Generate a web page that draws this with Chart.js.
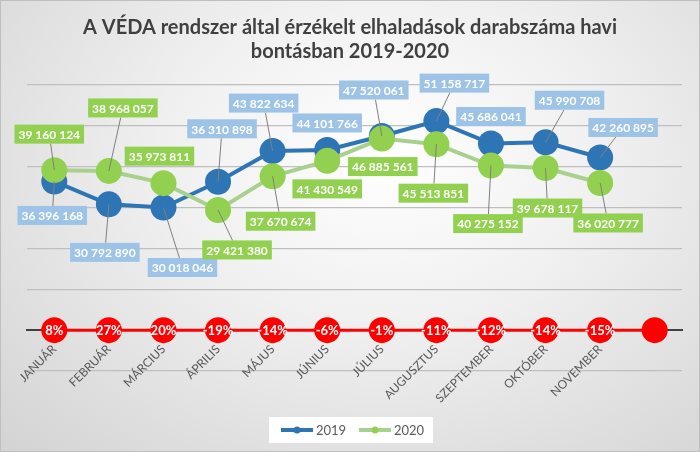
<!DOCTYPE html>
<html><head><meta charset="utf-8">
<script src="https://cdn.jsdelivr.net/npm/chart.js@4/dist/chart.umd.min.js"></script>
<style>
html,body{margin:0;padding:0;}
#wrap{width:698px;height:450px;border:1px solid #bfbfbf;background:radial-gradient(ellipse at 55% 35%,#ffffff 0%,#f0f0f0 40%,#d3d3d3 100%);}
</style></head><body>
<div id="wrap"><canvas id="c" width="698" height="450"></canvas></div>
<script>
const months = ['JANUÁR','FEBRUÁR','MÁRCIUS','ÁPRILIS','MÁJUS','JÚNIUS','JÚLIUS','AUGUSZTUS','SZEPTEMBER','OKTÓBER','NOVEMBER',''];
const values2019 = [36396168,30792890,30018046,36310898,43822634,44101766,47520061,51158717,45686041,45990708,42260895,null];
const values2020 = [39160124,38968057,35973811,29421380,37670674,41430549,46885561,45513851,40275152,39678117,36020777,null];
const changeBase = [0,0,0,0,0,0,0,0,0,0,0,0];
const changeLabels = ['8%','27%','20%','-19%','-14%','-6%','-1%','-11%','-12%','-14%','-15%',''];
const titleLines = ['A VÉDA rendszer által érzékelt elhaladások darabszáma havi','bontásban 2019-2020'];

// label offsets (style only)
const off2019 = [[-2,34],[-4,48],[19,60],[4,-53],[-9,-48],[0,-27],[-8,-46],[18,-38],[0,-27],[24,-42],[23,-30]];
const off2020 = [[-5,-36],[14,-63],[-4,-27],[19,40],[8,45],[0,28],[1,28],[-3,49],[-3,58],[2,40],[8,40]];

const fmt = v => String(v).replace(/\B(?=(\d{3})+(?!\d))/g,' ');

const customDraw = {
  id:'customDraw',
  afterDatasetsDraw(chart){
    const ctx = chart.ctx;
    ctx.save();
    ctx.fillStyle='#404040'; ctx.font='bold 20px Lato'; ctx.textAlign='center'; ctx.textBaseline='middle';
    ctx.fillText(titleLines[0],349,27); ctx.fillText(titleLines[1],349,51);
    const sets=[[0,values2019,off2019,'#9dc3e6'],[1,values2020,off2020,'#92d050']];
    ctx.font='bold 12px Lato';
    sets.forEach(([di,vals,offs,bg])=>{
      const meta=chart.getDatasetMeta(di);
      vals.forEach((v,i)=>{
        if(v==null) return;
        const p=meta.data[i]; const txt=fmt(v);
        const w=ctx.measureText(txt).width+8, h=19;
        const cx=p.x+offs[i][0], cy=p.y+offs[i][1];
        const dist=Math.hypot(offs[i][0],offs[i][1]);
        if(dist>32){
          const dx=p.x-cx, dy=p.y-cy;
          const t=Math.min(Math.abs((w/2)/(dx||1e-6)),Math.abs((h/2)/(dy||1e-6)));
          ctx.strokeStyle='#7f7f7f'; ctx.lineWidth=1;
          ctx.beginPath(); ctx.moveTo(p.x,p.y); ctx.lineTo(cx+dx*t,cy+dy*t); ctx.stroke();
        }
        ctx.fillStyle=bg; ctx.fillRect(cx-w/2,cy-h/2,w,h);
        ctx.fillStyle='#ffffff'; ctx.textAlign='center'; ctx.textBaseline='middle';
        ctx.fillText(txt,cx,cy+1);
      });
    });
    const rm=chart.getDatasetMeta(2);
    ctx.font='bold 13px Lato'; ctx.fillStyle='#ffffff';
    changeLabels.forEach((t,i)=>{ if(t) ctx.fillText(t,rm.data[i].x,rm.data[i].y+1); });
    ctx.fillStyle='#ffffff'; ctx.fillRect(268,416,164,26);
    const items=[[280,'#2e75b6','2019'],[358,'#a9d18e','2020']];
    items.forEach(([x,c,t],k)=>{
      ctx.strokeStyle=c; ctx.lineWidth=4; ctx.beginPath(); ctx.moveTo(x,429); ctx.lineTo(x+32,429); ctx.stroke();
      ctx.fillStyle=k?'#92d050':'#2e75b6'; ctx.beginPath(); ctx.arc(x+16,429,3.5,0,Math.PI*2); ctx.fill();
      ctx.fillStyle='#595959'; ctx.font='13px Lato'; ctx.textAlign='left'; ctx.fillText(t,x+35,430);
    });
    ctx.restore();
  }
};

new Chart(document.getElementById('c'),{
  type:'line',
  data:{labels:months,datasets:[
    {label:'2019',data:values2019,borderColor:'#2e75b6',backgroundColor:'#2e75b6',borderWidth:4,pointRadius:13,pointHoverRadius:13,pointBorderWidth:0,order:2},
    {label:'2020',data:values2020,borderColor:'#a9d18e',backgroundColor:'#92d050',borderWidth:4,pointRadius:13,pointHoverRadius:13,pointBorderWidth:0,order:1},
    {label:'változás',data:changeBase,borderColor:'#ff0000',backgroundColor:'#ff0000',borderWidth:3,pointRadius:13,pointBorderWidth:0,order:0}
  ]},
  options:{
    responsive:false,animation:false,
    layout:{padding:{top:84,bottom:80,left:26,right:17}},
    plugins:{legend:{display:false},title:{display:false},tooltip:{enabled:false}},
    scales:{
      x:{position:{y:0},offset:true,grid:{display:false,offset:true},border:{color:'#404040',width:2},
         ticks:{color:'#595959',font:{family:'Lato',size:12},minRotation:45,maxRotation:45,padding:4,autoSkip:false}},
      y:{min:-10000000,max:60000000,ticks:{display:false,stepSize:10000000},border:{display:false},
         grid:{color:'#bfbfbf',lineWidth:1.3,drawTicks:false},afterFit:s=>{s.width=0;}}
    }
  },
  plugins:[customDraw]
});
</script></body></html>
